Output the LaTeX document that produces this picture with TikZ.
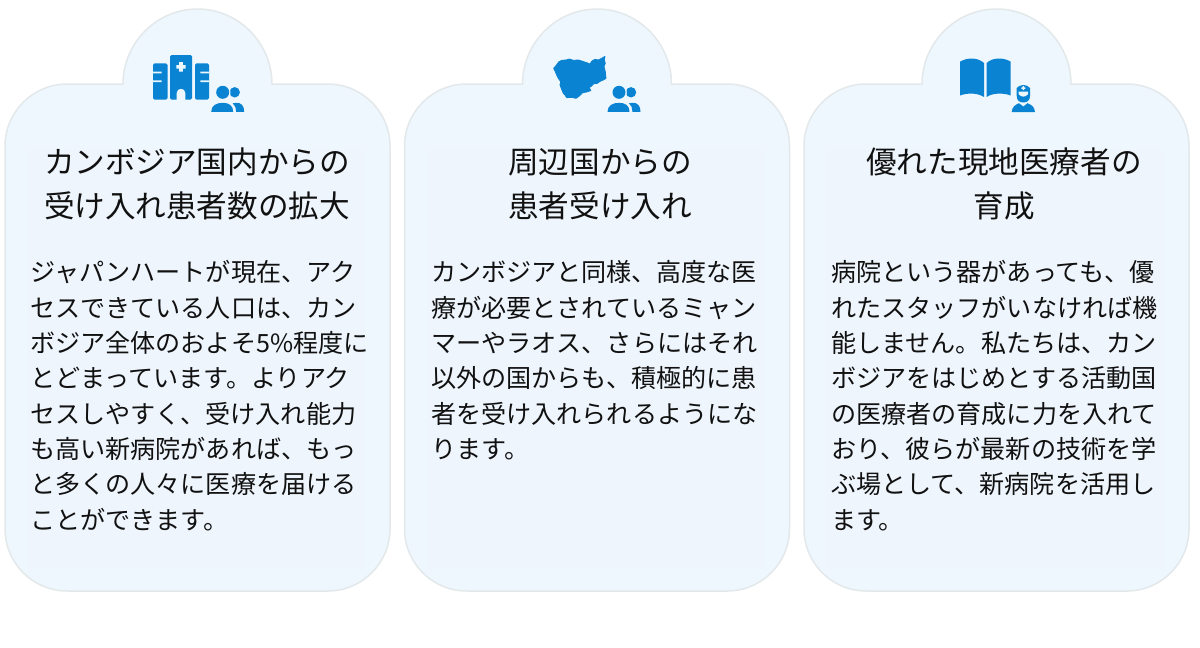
\documentclass[tikz,border=0pt]{standalone}
\usepackage{fontspec}
\setmainfont{Noto Sans CJK JP}

\definecolor{cardfill}{HTML}{EEF7FD}
\definecolor{cardedge}{HTML}{E3E8EB}
\definecolor{cardcore}{HTML}{EEF5FC}
\definecolor{iconblue}{HTML}{0A84D2}
\definecolor{inktext}{HTML}{111111}

\tikzset{
	cardline/.style={draw=cardedge, fill=cardfill, line width=1.5pt},
	cardinner/.style={fill=cardcore},
	icon/.style={fill=iconblue, draw=none},
	iconcut/.style={fill=cardfill, draw=none},
	cardtitle/.style={anchor=center, align=center, inner sep=0pt, text=inktext, font=\fontsize{30.6}{43.5}\selectfont},
	cardtext/.style={anchor=north west, align=left, inner sep=0pt, text=inktext, font=\fontsize{25.1}{35.3}\selectfont},
	cardshape/.pic={
		\draw[cardline] (5,146) .. controls (5,112) and (33,84) .. (67,84) -- (123,84)
			.. controls (123,43) and (156.5,9) .. (197.5,9)
			.. controls (238.5,9) and (272,43) .. (272,84) -- (328,84)
			.. controls (362,84) and (390,112) .. (390,146) -- (390,529)
			.. controls (390,563) and (362,591) .. (328,591) -- (67,591)
			.. controls (33,591) and (5,563) .. (5,529) -- cycle;
		\fill[cardinner] (27,150) rectangle (365,569);
	},
	peopleicon/.pic={
		\fill[icon] (12,0) circle (5.2);
		\fill[icon] (13,10.5) .. controls (19,10) and (21.5,14) .. (21.5,19.5) -- (13.5,19.5) .. controls (13.5,16) and (12.5,13) .. (10,11) -- cycle;
		\fill[iconcut] (0,0) circle (7.8);
		\fill[icon] (0,0) circle (6.5);
		\fill[iconcut] (-13,9.5) rectangle (12,10.5);
		\fill[icon] (-11.5,19.5) .. controls (-11.5,13) and (-6,10.5) .. (0,10.5) .. controls (6,10.5) and (10.5,13) .. (10.5,19.5) -- cycle;
	}
}

\begin{document}
\begin{tikzpicture}[x=1pt, y=-1pt]
	\useasboundingbox (0,0) rectangle (1200,648);

	\pic at (0,0) {cardshape};
	\pic at (399.5,0) {cardshape};
	\pic at (799,0) {cardshape};

	% hospital
	\fill[icon, rounded corners=1.5pt] (153,63.3) rectangle (167.5,99.5);
	\fill[icon, rounded corners=1.5pt] (170,55) rectangle (192,99.5);
	\fill[icon, rounded corners=1.5pt] (195,63.3) rectangle (209,99.5);
	\fill[iconcut] (153,71.5) rectangle (161.7,73.3) (153,80.3) rectangle (161.7,82.1);
	\fill[iconcut] (200.3,71.5) rectangle (209,73.3) (200.3,80.3) rectangle (209,82.1);
	\fill[iconcut] (179.2,62) rectangle (182.8,71.5) (176.3,65) rectangle (185.7,68.5);
	\fill[iconcut] (176.7,100) -- (176.7,93) .. controls (176.7,87.5) and (185.3,87.5) .. (185.3,93) -- (185.3,100) -- cycle;
	\pic at (222.7,92.3) {peopleicon};

	% map
	\filldraw[icon, draw=iconblue, line width=0.8pt, line join=round, x=0.3333pt, y=-0.3333pt, shift={(510pt,0pt)}]
		(131,205) -- (138,197) -- (146,186) -- (155,181) -- (168,180) -- (178,177) -- (190,181)
		-- (205,180) -- (218,184) -- (230,188) -- (240,192) -- (246,183) -- (255,178) -- (265,180)
		-- (275,175) -- (285,169) -- (283,180) -- (286,190) -- (282,200) -- (286,215) -- (288,235)
		-- (280,240) -- (272,243) -- (262,250) -- (250,252) -- (245,258) -- (238,262) -- (242,272)
		-- (230,276) -- (218,278) -- (208,288) -- (198,295) -- (185,292) -- (170,293) -- (165,285)
		-- (160,280) -- (155,268) -- (150,255) -- (152,245) -- (145,235) -- (140,225) -- (136,215) -- cycle;
	\pic at (619,92.3) {peopleicon};

	% book
	\fill[icon] (960,61.7) .. controls (968,57) and (978,57.5) .. (984,63) -- (984,97)
		.. controls (978,93) and (968,92.5) .. (960,95.5) -- cycle;
	\fill[icon] (986.7,63) .. controls (992,57.5) and (1003,57) .. (1010.7,61.7) -- (1010.7,95.5)
		.. controls (1003,92.5) and (992,93) .. (986.7,97) -- cycle;

	% doctor
	\fill[icon] (1016.7,88) .. controls (1020,84) and (1027,84) .. (1030,88) -- (1030,96)
		.. controls (1030,100.5) and (1027,102.5) .. (1023.3,102.5)
		.. controls (1019.5,102.5) and (1016.7,100.5) .. (1016.7,96) -- cycle;
	\fill[iconcut] (1018.6,91.5) -- (1028.1,91.5) -- (1028.1,94) .. controls (1025.5,97.5) and (1021,97.5) .. (1018.6,94) -- cycle;
	\fill[iconcut] (1022.6,86.2) rectangle (1024.1,90) (1021.4,87.4) rectangle (1025.3,88.8);
	\fill[icon] (1011.7,112) .. controls (1012,107) and (1015,105) .. (1019,103.2) -- (1023.3,106.5) -- (1027.5,103.2)
		.. controls (1032,105) and (1034.5,107) .. (1035,112) -- cycle;

	\node[cardtitle] (title1) at (197,184) {カンボジア国内からの\\受け入れ患者数の拡大};
	\node[cardtitle] (title2) at (600,184) {周辺国からの\\患者受け入れ};
	\node[cardtitle] (title3) at (1004,184) {優れた現地医療者の\\育成};

	\node[cardtext] (text1) at (30,260.5) {ジャパンハートが現在、アク\\
		セスできている人口は、カン\\
		ボジア全体のおよそ5\%程度に\\
		とどまっています。よりアク\\
		セスしやすく、受け入れ能力\\
		も高い新病院があれば、もっ\\
		と多くの人々に医療を届ける\\
		ことができます。};
	\node[cardtext] (text2) at (431,260.5) {カンボジアと同様、高度な医\\
		療が必要とされているミャン\\
		マーやラオス、さらにはそれ\\
		以外の国からも、積極的に患\\
		者を受け入れられるようにな\\
		ります。};
	\node[cardtext] (text3) at (831,260.5) {病院という器があっても、優\\
		れたスタッフがいなければ機\\
		能しません。私たちは、カン\\
		ボジアをはじめとする活動国\\
		の医療者の育成に力を入れて\\
		おり、彼らが最新の技術を学\\
		ぶ場として、新病院を活用し\\
		ます。};
\end{tikzpicture}
\end{document}
